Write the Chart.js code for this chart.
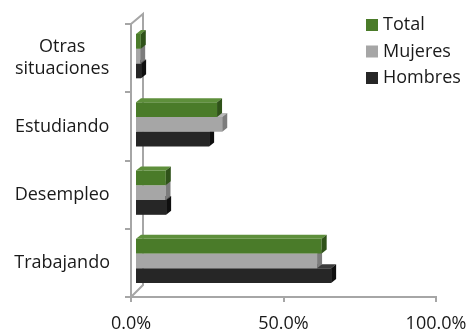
<!DOCTYPE html>
<html>
<head>
<meta charset="utf-8">
<script src="https://cdn.jsdelivr.net/npm/chart.js@4"></script>
<style>
  html, body { margin: 0; padding: 0; background: #fff; }
  #wrap { width: 472px; height: 331px; }
</style>
</head>
<body>
<div id="wrap"><canvas id="chart"></canvas></div>
<script>
// data (percent)
const categories = [['Otras', 'situaciones'], 'Estudiando', 'Desempleo', 'Trabajando'];
const total = [1.9, 26.9, 10.1, 61.2];
const mujeres = [1.7, 28.6, 10.0, 59.7];
const hombres = [2.0, 24.3, 10.2, 64.3];
const xTicks = [0, 50, 100];

const axisGrey = '#a6a6a6';
// front, side, top colours for the fake 3d look
const shades = {
  Total: ['#4a7b29', '#2f5219', '#5e8f3b'],
  Mujeres: ['#a6a6a6', '#7c7c7c', '#b8b8b8'],
  Hombres: ['#262626', '#0f0f0f', '#3b3b3b']
};

Chart.defaults.font.family = '"Open Sans", sans-serif';
Chart.defaults.font.size = 18;
Chart.defaults.color = '#1a1a1a';

// back wall + floor edge, then shift the bars a bit into the depth
const depthPlugin = {
  id: 'depth',
  beforeDatasetsDraw(chart) {
    const ctx = chart.ctx;
    const a = chart.chartArea;
    ctx.save();
    ctx.strokeStyle = axisGrey;
    ctx.lineWidth = 2;
    ctx.beginPath();
    ctx.moveTo(a.left, a.top);
    ctx.lineTo(a.left + 12, a.top - 10);
    ctx.lineTo(a.left + 12, a.bottom - 12);
    ctx.lineTo(a.left, a.bottom);
    ctx.stroke();
    ctx.restore();
    ctx.save();
    ctx.translate(4, -2);
  },
  afterDatasetDraw(chart, args) {
    const ctx = chart.ctx;
    const ds = chart.data.datasets[args.index];
    const c = shades[ds.label];
    const dx = 5, dy = 4;
    args.meta.data.forEach(bar => {
      const p = bar.getProps(['x', 'y', 'base', 'height'], true);
      const t = p.y - p.height / 2, b = p.y + p.height / 2;
      ctx.fillStyle = c[2];
      ctx.beginPath();
      ctx.moveTo(p.base, t);
      ctx.lineTo(p.base + dx, t - dy);
      ctx.lineTo(p.x + dx, t - dy);
      ctx.lineTo(p.x, t);
      ctx.closePath();
      ctx.fill();
      ctx.fillStyle = c[1];
      ctx.beginPath();
      ctx.moveTo(p.x, t);
      ctx.lineTo(p.x + dx, t - dy);
      ctx.lineTo(p.x + dx, b - dy);
      ctx.lineTo(p.x, b);
      ctx.closePath();
      ctx.fill();
    });
  },
  afterDatasetsDraw(chart) {
    chart.ctx.restore();
  }
};

// legend sits inside the plot like in the original
const legendPlugin = {
  id: 'innerLegend',
  afterDraw(chart) {
    const ctx = chart.ctx;
    ctx.save();
    ctx.font = '18px "Open Sans", sans-serif';
    ctx.textBaseline = 'middle';
    chart.data.datasets.forEach((ds, i) => {
      const y = 25 + i * 26.5;
      ctx.fillStyle = ds.backgroundColor;
      ctx.fillRect(366, y - 6, 12, 12);
      ctx.fillStyle = '#1a1a1a';
      ctx.fillText(ds.label, 383, y);
    });
    ctx.restore();
  }
};

new Chart(document.getElementById('chart'), {
  type: 'bar',
  data: {
    labels: categories,
    datasets: [
      { label: 'Total', data: total, backgroundColor: shades.Total[0] },
      { label: 'Mujeres', data: mujeres, backgroundColor: shades.Mujeres[0] },
      { label: 'Hombres', data: hombres, backgroundColor: shades.Hombres[0] }
    ]
  },
  options: {
    indexAxis: 'y',
    responsive: true,
    maintainAspectRatio: false,
    animation: false,
    devicePixelRatio: 1,
    categoryPercentage: 0.65,
    barPercentage: 1,
    layout: { padding: { top: 24, right: 36, left: 0, bottom: 0 } },
    plugins: { legend: { display: false }, tooltip: { enabled: false } },
    scales: {
      x: {
        min: 0,
        max: 100,
        afterBuildTicks: s => { s.ticks = xTicks.map(v => ({ value: v })); },
        afterFit: s => { s.height = 34; s.paddingLeft = 0; s.paddingRight = 0; },
        ticks: { callback: v => v.toFixed(1) + '%', padding: 11, maxRotation: 0 },
        grid: { drawOnChartArea: false, tickLength: 5, color: axisGrey, lineWidth: 2 },
        border: { color: axisGrey, width: 2 }
      },
      y: {
        afterFit: s => { s.width = 131; s.paddingTop = 0; s.paddingBottom = 0; },
        ticks: { crossAlign: 'center', padding: 15 },
        grid: { drawOnChartArea: false, offset: true, tickLength: 6, color: axisGrey, lineWidth: 2 },
        border: { color: axisGrey, width: 2 }
      }
    }
  },
  plugins: [depthPlugin, legendPlugin]
});
</script>
</body>
</html>
